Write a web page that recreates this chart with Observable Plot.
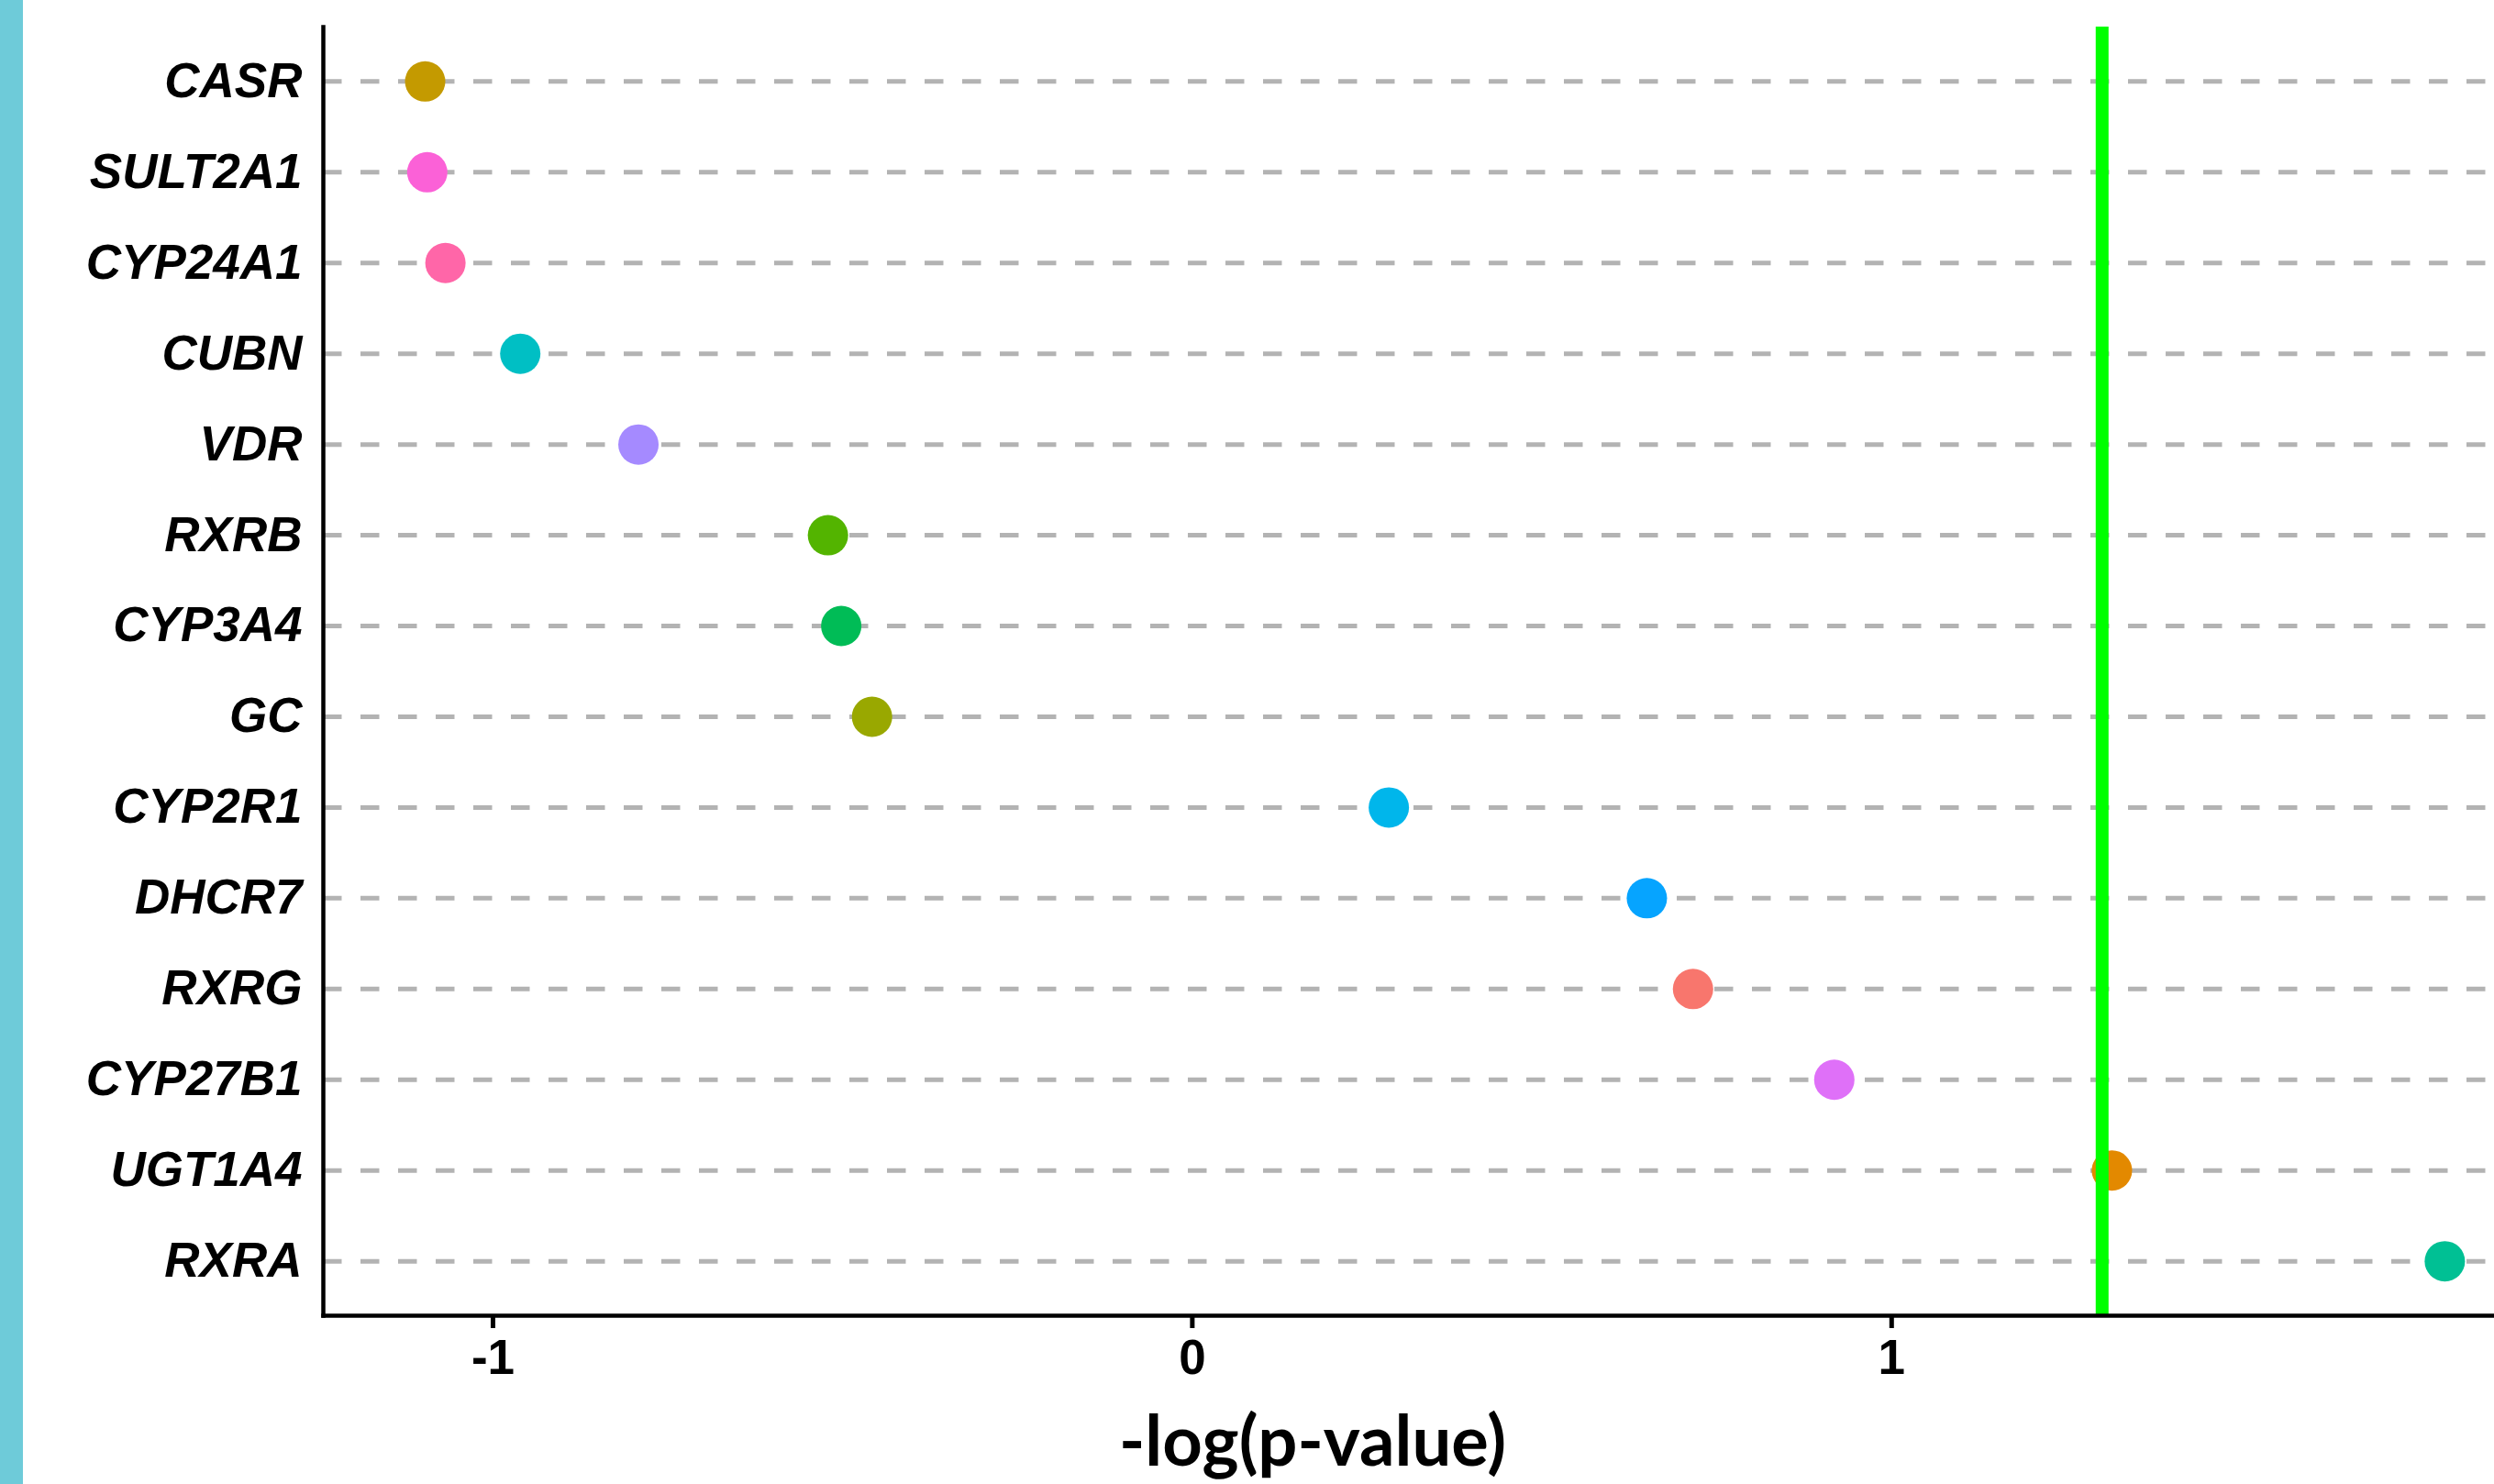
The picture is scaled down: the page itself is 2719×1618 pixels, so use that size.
<!DOCTYPE html>
<html>
<head>
<meta charset="utf-8">
<script src="https://cdn.jsdelivr.net/npm/d3@7"></script>
<script src="https://cdn.jsdelivr.net/npm/@observablehq/plot@0.6"></script>
<style>
  html, body { margin: 0; padding: 0; background: #ffffff; overflow: hidden; }
  #wrap { position: relative; width: 2719px; height: 1618px; }
  #bar { position: absolute; left: 0; top: 0; width: 25px; height: 1618px; background: #6ECBD9; }
  #chart { position: absolute; left: 0; top: 0; }
  g[aria-label="y-axis tick label"] text { font-family: "Liberation Sans", Arial, sans-serif; font-style: italic; font-weight: bold; }
  g[aria-label="x-axis tick label"] text { font-family: "Liberation Sans", Arial, sans-serif; font-weight: bold; }
</style>
</head>
<body>
<div id="wrap"><div id="chart"></div><div id="bar"></div></div>
<script>
// Genes, top to bottom
const genes = ["CASR","SULT2A1","CYP24A1","CUBN","VDR","RXRB","CYP3A4","GC","CYP2R1","DHCR7","RXRG","CYP27B1","UGT1A4","RXRA"];
// -log(p-value) per gene
const values = [-1.097,-1.094,-1.068,-0.961,-0.792,-0.521,-0.502,-0.458,0.281,0.650,0.716,0.918,1.315,1.791];
// point colours per gene
const colors = ["#C49A00","#FB61D7","#FF66A8","#00BFC4","#A58AFF","#53B400","#00BC56","#99A800","#00B6EB","#06A4FF","#F8766D","#DF70F8","#E38900","#00C094"];
// significance threshold (-log10(0.05))
const threshold = [1.301];
// x axis
const xTicks = [-1, 0, 1];
const xDomain = [-1.2426, 1.862];
const xLabel = ["-log(p-value)"];

const data = genes.map((g, i) => ({gene: g, value: values[i]}));

const chart = Plot.plot({
  width: 2719,
  height: 1618,
  marginLeft: 352,
  marginRight: 0,
  marginTop: 29,
  marginBottom: 184,
  style: {background: "#ffffff", overflow: "visible", color: "#000000"},
  x: {domain: xDomain, ticks: xTicks},
  y: {type: "point", domain: genes, padding: 0.6, round: false},
  color: {domain: genes, range: colors},
  marks: [
    Plot.ruleY(genes, {y: d => d, stroke: "#B3B3B3", strokeWidth: 5, strokeDasharray: "20.5,20.5"}),
    Plot.dot(data, {x: "value", y: "gene", fill: "gene", r: 22}),
    Plot.ruleX(threshold, {x: d => d, stroke: "#00FF00", strokeWidth: 14}),
    Plot.frame({anchor: "left", stroke: "#000000", strokeWidth: 4.5}),
    Plot.frame({anchor: "bottom", stroke: "#000000", strokeWidth: 4.5}),
    Plot.axisY({anchor: "left", tickSize: 0, tickPadding: 23, fontSize: 53, label: null}),
    Plot.axisX({anchor: "bottom", ticks: xTicks, tickSize: 14, tickPadding: 12, strokeWidth: 5, fontSize: 53, label: null, tickFormat: d => String(d)}),
    Plot.text(xLabel, {text: d => d, frameAnchor: "bottom", dx: -105, dy: 163, lineAnchor: "bottom", textAnchor: "middle", fontSize: 76, fontWeight: "bold", fontFamily: "Lato", fill: "#000000"})
  ]
});
document.getElementById("chart").appendChild(chart);
</script>
</body>
</html>
